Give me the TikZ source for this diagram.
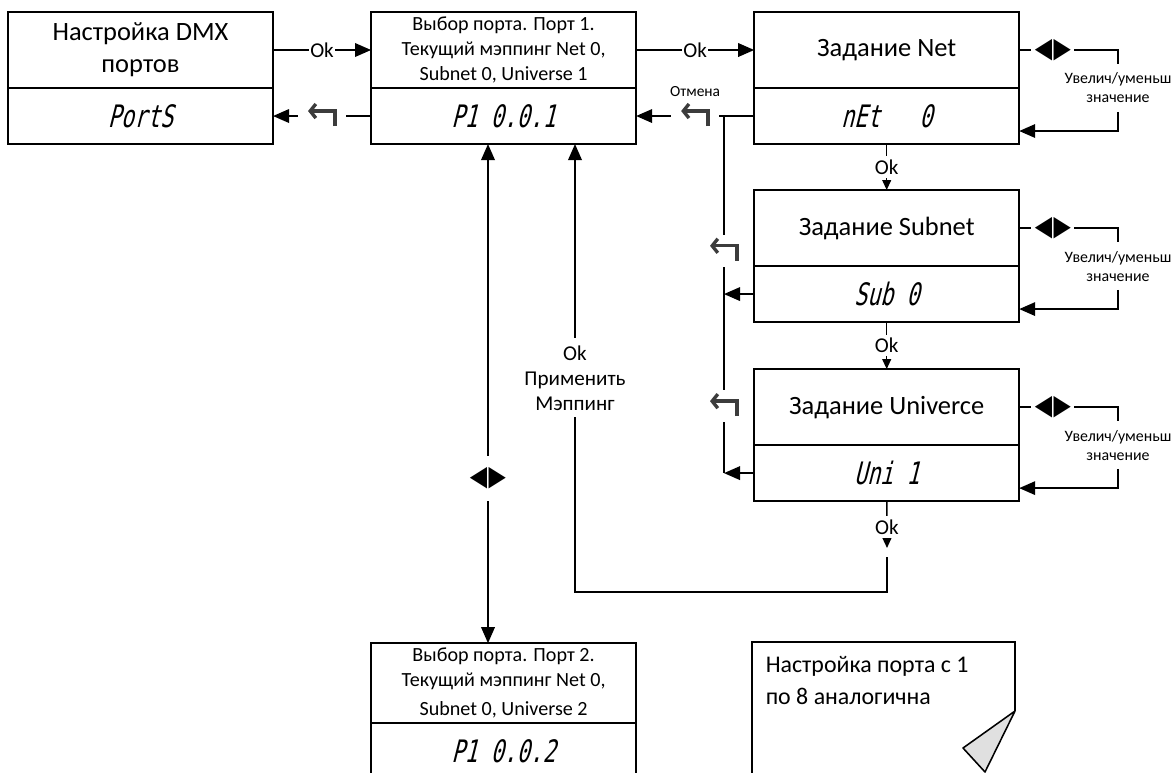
\documentclass[tikz,border=0pt]{standalone}
\usepackage{fontspec}
\setmainfont{Carlito}
\newfontfamily\keyf{DejaVu Sans}[FakeStretch=0.8]
\newfontfamily\lcdf{DejaVu Sans Mono}[FakeSlant=0.25,FakeStretch=0.7]
\usetikzlibrary{arrows.meta,positioning}
\definecolor{curl}{RGB}{224,224,224}
\definecolor{retcol}{RGB}{60,60,60}
\tikzstyle{title}=[draw, outer sep=0pt, minimum width=6.625cm, minimum height=1.9cm, align=center, font=\fontsize{18.8}{22.8}\selectfont]
\tikzstyle{port}=[title, font=\fontsize{14.3}{17.8}\selectfont]
\tikzstyle{lcd}=[draw, outer sep=0pt, minimum width=6.625cm, minimum height=1.4cm, font=\lcdf\fontsize{22}{22}\selectfont]
\tikzstyle{ok}=[fill=white, inner xsep=1pt, inner ysep=2.5pt, font=\fontsize{15}{15}\selectfont]
\tikzstyle{keys}=[fill=white, inner xsep=2pt, inner ysep=1pt, font=\keyf\fontsize{20}{20}\selectfont]
\tikzstyle{ret}=[fill=white, minimum width=1.2cm, minimum height=0.8cm, inner sep=0pt]
\tikzstyle{val}=[align=center, inner xsep=0pt, inner ysep=0.2cm, font=\fontsize{11.3}{13.5}\selectfont]
\tikzstyle{apply}=[fill=white, align=center, inner ysep=5pt, font=\fontsize{15}{17.8}\selectfont]
\tikzstyle{memo}=[align=left, anchor=north west, inner sep=0pt, font=\fontsize{17}{22.8}\selectfont]
\tikzset{okt/.tip={Triangle[length=0.25cm,width=0.22cm]},
  retmark/.pic={\draw[retcol, line width=2.4pt, -{Straight Barb[length=4pt,width=10pt]}] (13,10) |- (-14,-5);}}
\begin{document}
\begin{tikzpicture}[x=0.025cm,y=-0.025cm,>={Triangle[length=0.4cm,width=0.34cm]},line width=1.1pt]
\useasboundingbox (0,0) rectangle (1171,772);
\clip (0,0) rectangle (1171,772);
\node[title] (tA) at (140.5,50) {Настройка DMX\\портов};
\node[lcd, below=0pt of tA] (rA) {PortS};
\node[port, right=2.45cm of tA] (tB) {Выбор порта. Порт 1.\\Текущий мэппинг Net 0,\\Subnet 0, Universe 1};
\node[lcd, below=0pt of tB] (rB) {P1 0.0.1};
\node[title, right=2.95cm of tB] (tN) {Задание Net};
\node[lcd, below=0pt of tN] (rN) {nEt\ \ \ 0};
\node[title, below=1.15cm of rN] (tS) {Задание Subnet};
\node[lcd, below=0pt of tS] (rS) {Sub 0};
\node[title, below=1.175cm of rS] (tU) {Задание Univerce};
\node[lcd, below=0pt of tU] (rU) {Uni 1};
\node[port, below=12.475cm of rB] (tP) {Выбор порта. Порт 2.\\Текущий мэппинг Net 0,\\[0.1cm]Subnet 0, Universe 2};
\node[lcd, below=0pt of tP] (rP) {P1 0.0.2};
\draw (752,790) -- (752,642) -- (1015,642) -- (1015,711);
\draw[fill=curl, line join=round] (1015,711) -- (963,748) -- (985,772) -- cycle;
\node[memo] (memo) at (765,656) {Настройка порта с 1\\по 8 аналогична};
\draw[->] (tA) -- node[ok]{Ok} (tB);
\draw[->] (tB) -- node[ok]{Ok} (tN);
\draw[-okt] (rN) -- node[ok]{Ok} (tS);
\draw[-okt] (rS) -- node[ok]{Ok} (tU);
\coordinate (cx) at (724,0);
\draw[->] (rB) -- node[ret] (gA) {} (rA);
\draw[->] (rN) -- node[ret] (gB) {} node[above=0.35cm, font=\fontsize{11}{12}\selectfont]{Отмена} (rB);
\draw (rN.west -| cx) -- node[ret, pos=0.757] (gS) {} (rS.west -| cx) -- node[ret, pos=0.626] (gU) {} (rU.west -| cx);
\pic at (gA) {retmark};
\pic at (gB) {retmark};
\pic at (gS) {retmark};
\pic at (gU) {retmark};
\draw[->] (rS) -- (rS.west -| cx);
\draw[->] (rU) -- (rU.west -| cx);
\coordinate (ok1) at (887,548);
\coordinate (ok2) at (887,557);
\coordinate (ap) at (575,592);
\draw[-okt] (rU) -- node[ok, pos=0.55]{Ok} (ok1);
\draw[->] (ok2) |- (ap) -- node[apply, pos=0.478]{Ok\\Применить\\Мэппинг} (rB.south -| ap);
\coordinate (ud) at (488,0);
\draw[<->] (tP.north -| ud) -- node[keys, inner ysep=0.3cm, pos=0.33]{◀\kern1pt▶} (rB.south -| ud);
\coordinate (bx) at (1118,0);
\node[keys, right=0.3cm of tN] (kN) {◀\kern1pt▶};
\node[val] (vN) at (tN.south -| bx) {Увелич/уменьш\\значение};
\draw (tN) -- (kN);
\draw (kN) -| (vN);
\draw[->] (vN) |- ([yshift=-0.375cm]rN.east);
\node[keys, right=0.3cm of tS] (kS) {◀\kern1pt▶};
\node[val] (vS) at (tS.south -| bx) {Увелич/уменьш\\значение};
\draw (tS) -- (kS);
\draw (kS) -| (vS);
\draw[->] (vS) |- ([yshift=-0.375cm]rS.east);
\node[keys, right=0.3cm of tU] (kU) {◀\kern1pt▶};
\node[val] (vU) at (tU.south -| bx) {Увелич/уменьш\\значение};
\draw (tU) -- (kU);
\draw (kU) -| (vU);
\draw[->] (vU) |- ([yshift=-0.375cm]rU.east);
\end{tikzpicture}
\end{document}
